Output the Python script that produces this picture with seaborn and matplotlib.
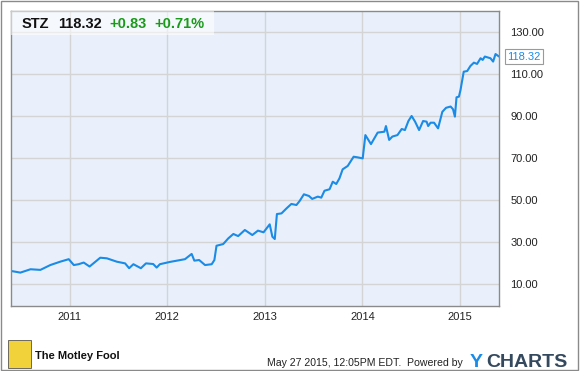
import pandas as pd
import matplotlib.pyplot as plt
import matplotlib.patches as mpatches
import matplotlib.dates as mdates
import seaborn as sns

# === DATA ===
dates = [
    "2010-05-27", "2010-07-01", "2010-08-08", "2010-09-14", "2010-10-21", "2010-11-27",
    "2010-12-29", "2011-01-17", "2011-02-04", "2011-02-23", "2011-03-17", "2011-04-26",
    "2011-05-21", "2011-06-27", "2011-07-28", "2011-08-12", "2011-08-28", "2011-09-25",
    "2011-10-14", "2011-11-10", "2011-11-23", "2011-12-05", "2012-01-12", "2012-03-08",
    "2012-04-02", "2012-04-12", "2012-04-30", "2012-05-22", "2012-06-16", "2012-06-26",
    "2012-07-04", "2012-07-29", "2012-08-17", "2012-09-05", "2012-09-23", "2012-10-18",
    "2012-11-15", "2012-12-06", "2012-12-27", "2013-01-19", "2013-01-29", "2013-02-07",
    "2013-02-15", "2013-03-04", "2013-03-23", "2013-04-10", "2013-04-29", "2013-05-11",
    "2013-05-27", "2013-06-15", "2013-06-27", "2013-07-18", "2013-07-31", "2013-08-12",
    "2013-08-31", "2013-09-12", "2013-09-25", "2013-10-07", "2013-10-19", "2013-11-07",
    "2013-11-29", "2013-12-14", "2014-01-02", "2014-01-12", "2014-02-02", "2014-02-27",
    "2014-03-24", "2014-03-30", "2014-04-11", "2014-04-23", "2014-05-12", "2014-05-28",
    "2014-06-09", "2014-06-22", "2014-07-04", "2014-07-17", "2014-08-01", "2014-08-16",
    "2014-08-29", "2014-09-04", "2014-09-13", "2014-09-26", "2014-10-11", "2014-10-27",
    "2014-11-10", "2014-11-27", "2014-12-06", "2014-12-13", "2014-12-19", "2014-12-28",
    "2015-01-03", "2015-01-15", "2015-01-28", "2015-02-09", "2015-02-22", "2015-03-06",
    "2015-03-19", "2015-03-27", "2015-04-04", "2015-04-25", "2015-05-05", "2015-05-14",
    "2015-05-27",
]
prices = [
    16.2, 15.4, 17.0, 16.7, 19.0, 20.6,
    21.8, 19.0, 19.4, 20.2, 18.3, 22.5,
    22.2, 20.6, 19.8, 17.5, 19.4, 17.5,
    19.8, 19.5, 17.8, 19.4, 20.5, 21.8,
    24.3, 21.1, 21.4, 19.0, 19.4, 21.4,
    28.2, 29.0, 31.7, 33.8, 32.8, 35.7,
    33.3, 35.4, 34.6, 38.4, 32.5, 31.4,
    43.3, 43.6, 46.0, 48.1, 47.6, 49.5,
    52.7, 51.9, 50.5, 51.6, 51.1, 54.4,
    55.1, 58.7, 57.6, 60.3, 64.6, 66.2,
    70.6, 70.3, 69.8, 80.9, 76.6, 82.1,
    82.5, 85.2, 78.6, 80.2, 80.9, 83.8,
    83.3, 87.6, 90.0, 87.3, 83.3, 87.6,
    87.3, 85.2, 86.8, 86.8, 84.1, 92.0,
    93.9, 94.5, 93.2, 89.7, 98.9, 99.2,
    102.4, 111.1, 111.4, 113.8, 115.4, 114.8,
    117.5, 116.7, 118.3, 117.5, 115.9, 119.5,
    118.32,
]
ticker = "STZ"
last_price = "118.32"
change = "+0.83"
change_pct = "+0.71%"
y_ticks = [10, 30, 50, 70, 90, 110, 130]
year_ticks = ["2011", "2012", "2013", "2014", "2015"]

df = pd.DataFrame({"date": pd.to_datetime(dates), "price": prices})

# === STYLE ===
sns.set_style("whitegrid")
plt.rcParams["font.family"] = ["Liberation Sans", "DejaVu Sans"]

fig = plt.figure(figsize=(5.8, 3.71), dpi=100)
ax = fig.add_axes([11 / 580, 1 - 306 / 371, 488 / 580, 295 / 371])
ax.set_facecolor("#e9f0fb")

sns.lineplot(data=df, x="date", y="price", ax=ax, color="#1a8be6", linewidth=1.5)

ax.set_xlim(pd.Timestamp("2010-05-27"), pd.Timestamp("2015-05-27"))
ax.set_ylim(-0.5, 140)
ax.set_xticks(pd.to_datetime([y + "-01-01" for y in year_ticks]))
ax.xaxis.set_major_formatter(mdates.DateFormatter("%Y"))
ax.yaxis.tick_right()
ax.set_yticks(y_ticks)
ax.set_yticklabels([f"{v:.2f}" for v in y_ticks])
ax.tick_params(axis="both", length=0, labelsize=8, colors="#222222")
ax.tick_params(axis="y", pad=8)
ax.tick_params(axis="x", pad=4)
ax.set_xlabel("")
ax.set_ylabel("")
ax.grid(True, color="#d4d4d4", linewidth=1)
for s in ax.spines.values():
    s.set_color("#8a8a8a")
    s.set_linewidth(1)

# header box with quote
ax.add_patch(mpatches.Rectangle((0, 1 - 24 / 295), 203 / 488, 24 / 295, transform=ax.transAxes,
                                facecolor="white", alpha=0.55, edgecolor="none", zorder=3))
fig.text(22 / 580, 1 - 28 / 371, ticker, fontsize=10.5, fontweight="bold", color="#111111")
fig.text(58 / 580, 1 - 28 / 371, last_price, fontsize=10.5, fontweight="bold", color="#111111")
fig.text(109 / 580, 1 - 28 / 371, change, fontsize=10.5, fontweight="bold", color="#1a9a1a")
fig.text(154 / 580, 1 - 28 / 371, change_pct, fontsize=10.5, fontweight="bold", color="#1a9a1a")

# last value flag
ax.annotate(last_price, xy=(1.0, prices[-1]), xycoords=("axes fraction", "data"),
            xytext=(6, 0), textcoords="offset points", va="center", ha="left",
            fontsize=8, color="#1a8be6", annotation_clip=False,
            bbox=dict(boxstyle="square,pad=0.2", fc="white", ec="#9a9a9a", lw=0.8))

# footer
fig.patches.append(mpatches.Rectangle((8 / 580, 1 - 368 / 371), 23 / 580, 28 / 371,
                                      transform=fig.transFigure, facecolor="#f2d23a",
                                      edgecolor="#555555", lw=0.6))
fig.text(35 / 580, 1 - 359 / 371, "The Motley Fool", fontsize=8, fontweight="bold",
         color="#111111", va="baseline")
fig.text(267 / 580, 1 - 366 / 371, "May 27 2015, 12:05PM EDT.  Powered by", fontsize=7.6,
         color="#222222", va="baseline")
fig.text(470 / 580, 1 - 367 / 371, "Y", fontsize=14, fontweight="bold", color="#1a8be6",
         va="baseline")
fig.text(486 / 580, 1 - 367 / 371, "CHARTS", fontsize=14, fontweight="bold", color="#34495e",
         va="baseline")

# outer border
fig.patches.append(mpatches.Rectangle((0.002, 0.003), 0.995, 0.993, transform=fig.transFigure,
                                      fill=False, edgecolor="#8a8a8a", lw=1))

fig.savefig("out.png", dpi=100)
